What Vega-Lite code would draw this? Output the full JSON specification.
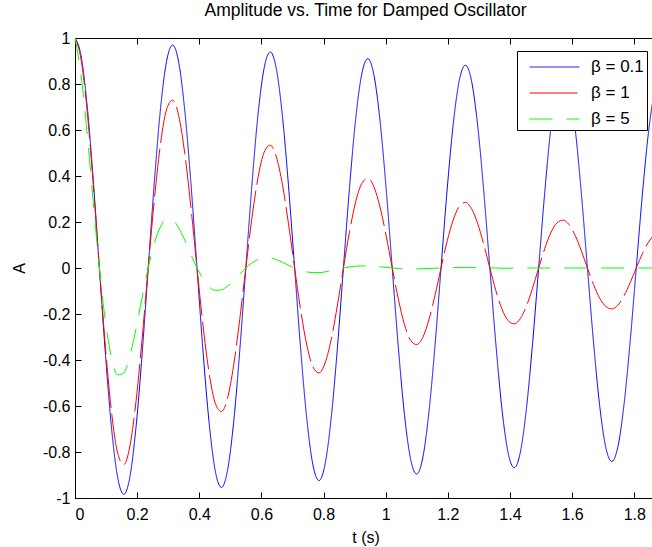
{
"$schema": "https://vega.github.io/schema/vega-lite/v6.json",
"autosize": "none",
"width": 581,
"height": 460,
"padding": {"left": 75, "top": 38, "right": 0, "bottom": 49},
"background": "white",
"title": {"text": "Amplitude vs. Time for Damped Oscillator", "fontSize": 17.5, "fontWeight": "normal", "font": "Liberation Sans", "color": "black", "anchor": "middle", "baseline": "alphabetic", "offset": 14, "dy": 17},
"datasets": {
"b01": [
{"t":0,"A":1},{"t":0.0196,"A":0.922},{"t":0.0393,"A":0.704},{"t":0.0589,"A":0.38},{"t":0.0785,"A":0},{"t":0.0982,"A":-0.379},{"t":0.1178,"A":-0.699},{"t":0.1374,"A":-0.911},
{"t":0.1571,"A":-0.984},{"t":0.1767,"A":-0.908},{"t":0.1963,"A":-0.693},{"t":0.216,"A":-0.375},{"t":0.2356,"A":0},{"t":0.2553,"A":0.373},{"t":0.2749,"A":0.688},{"t":0.2945,"A":0.897},
{"t":0.3142,"A":0.969},{"t":0.3338,"A":0.894},{"t":0.3534,"A":0.683},{"t":0.3731,"A":0.369},{"t":0.3927,"A":0},{"t":0.4123,"A":-0.367},{"t":0.432,"A":-0.677},{"t":0.4516,"A":-0.883},
{"t":0.4712,"A":-0.954},{"t":0.4909,"A":-0.88},{"t":0.5105,"A":-0.672},{"t":0.5301,"A":-0.363},{"t":0.5498,"A":0},{"t":0.5694,"A":0.361},{"t":0.589,"A":0.667},{"t":0.6087,"A":0.869},
{"t":0.6283,"A":0.939},{"t":0.648,"A":0.866},{"t":0.6676,"A":0.661},{"t":0.6872,"A":0.357},{"t":0.7069,"A":0},{"t":0.7265,"A":-0.356},{"t":0.7461,"A":-0.656},{"t":0.7658,"A":-0.856},
{"t":0.7854,"A":-0.924},{"t":0.805,"A":-0.852},{"t":0.8247,"A":-0.651},{"t":0.8443,"A":-0.352},{"t":0.8639,"A":0},{"t":0.8836,"A":0.35},{"t":0.9032,"A":0.646},{"t":0.9228,"A":0.842},
{"t":0.9425,"A":0.91},{"t":0.9621,"A":0.839},{"t":0.9817,"A":0.641},{"t":1.0014,"A":0.346},{"t":1.021,"A":0},{"t":1.0407,"A":-0.345},{"t":1.0603,"A":-0.636},{"t":1.0799,"A":-0.829},
{"t":1.0996,"A":-0.896},{"t":1.1192,"A":-0.826},{"t":1.1388,"A":-0.631},{"t":1.1585,"A":-0.341},{"t":1.1781,"A":0},{"t":1.1977,"A":0.339},{"t":1.2174,"A":0.626},{"t":1.237,"A":0.816},
{"t":1.2566,"A":0.882},{"t":1.2763,"A":0.813},{"t":1.2959,"A":0.621},{"t":1.3155,"A":0.336},{"t":1.3352,"A":0},{"t":1.3548,"A":-0.334},{"t":1.3744,"A":-0.616},{"t":1.3941,"A":-0.804},
{"t":1.4137,"A":-0.868},{"t":1.4334,"A":-0.801},{"t":1.453,"A":-0.611},{"t":1.4726,"A":-0.33},{"t":1.4923,"A":0},{"t":1.5119,"A":0.329},{"t":1.5315,"A":0.607},{"t":1.5512,"A":0.791},
{"t":1.5708,"A":0.855},{"t":1.5904,"A":0.788},{"t":1.6101,"A":0.602},{"t":1.6297,"A":0.325},{"t":1.6493,"A":0},{"t":1.669,"A":-0.324},{"t":1.6886,"A":-0.597},{"t":1.7082,"A":-0.779},
{"t":1.7279,"A":-0.841},{"t":1.7475,"A":-0.776},{"t":1.7671,"A":-0.593},{"t":1.7868,"A":-0.32},{"t":1.8064,"A":0},{"t":1.8261,"A":0.319},{"t":1.8457,"A":0.588},{"t":1.8653,"A":0.767},
{"t":1.885,"A":0.828}
],
"b1": [
{"t":0,"A":1},{"t":0.0196,"A":0.906},{"t":0.0393,"A":0.68},{"t":0.0589,"A":0.361},{"t":0.0785,"A":0},{"t":0.0982,"A":-0.347},{"t":0.1178,"A":-0.629},{"t":0.1374,"A":-0.805},
{"t":0.1571,"A":-0.855},{"t":0.1767,"A":-0.774},{"t":0.1963,"A":-0.581},{"t":0.216,"A":-0.308},{"t":0.2356,"A":0},{"t":0.2553,"A":0.296},{"t":0.2749,"A":0.537},{"t":0.2945,"A":0.688},
{"t":0.3142,"A":0.73},{"t":0.3338,"A":0.662},{"t":0.3534,"A":0.497},{"t":0.3731,"A":0.264},{"t":0.3927,"A":0},{"t":0.4123,"A":-0.253},{"t":0.432,"A":-0.459},{"t":0.4516,"A":-0.588},
{"t":0.4712,"A":-0.624},{"t":0.4909,"A":-0.566},{"t":0.5105,"A":-0.424},{"t":0.5301,"A":-0.225},{"t":0.5498,"A":0},{"t":0.5694,"A":0.217},{"t":0.589,"A":0.392},{"t":0.6087,"A":0.503},
{"t":0.6283,"A":0.534},{"t":0.648,"A":0.483},{"t":0.6676,"A":0.363},{"t":0.6872,"A":0.192},{"t":0.7069,"A":0},{"t":0.7265,"A":-0.185},{"t":0.7461,"A":-0.335},{"t":0.7658,"A":-0.43},
{"t":0.7854,"A":-0.456},{"t":0.805,"A":-0.413},{"t":0.8247,"A":-0.31},{"t":0.8443,"A":-0.165},{"t":0.8639,"A":0},{"t":0.8836,"A":0.158},{"t":0.9032,"A":0.287},{"t":0.9228,"A":0.367},
{"t":0.9425,"A":0.39},{"t":0.9621,"A":0.353},{"t":0.9817,"A":0.265},{"t":1.0014,"A":0.141},{"t":1.021,"A":0},{"t":1.0407,"A":-0.135},{"t":1.0603,"A":-0.245},{"t":1.0799,"A":-0.314},
{"t":1.0996,"A":-0.333},{"t":1.1192,"A":-0.302},{"t":1.1388,"A":-0.226},{"t":1.1585,"A":-0.12},{"t":1.1781,"A":0},{"t":1.1977,"A":0.116},{"t":1.2174,"A":0.209},{"t":1.237,"A":0.268},
{"t":1.2566,"A":0.285},{"t":1.2763,"A":0.258},{"t":1.2959,"A":0.194},{"t":1.3155,"A":0.103},{"t":1.3352,"A":0},{"t":1.3548,"A":-0.099},{"t":1.3744,"A":-0.179},{"t":1.3941,"A":-0.229},
{"t":1.4137,"A":-0.243},{"t":1.4334,"A":-0.22},{"t":1.453,"A":-0.165},{"t":1.4726,"A":-0.088},{"t":1.4923,"A":0},{"t":1.5119,"A":0.084},{"t":1.5315,"A":0.153},{"t":1.5512,"A":0.196},
{"t":1.5708,"A":0.208},{"t":1.5904,"A":0.188},{"t":1.6101,"A":0.141},{"t":1.6297,"A":0.075},{"t":1.6493,"A":0},{"t":1.669,"A":-0.072},{"t":1.6886,"A":-0.131},{"t":1.7082,"A":-0.167},
{"t":1.7279,"A":-0.178},{"t":1.7475,"A":-0.161},{"t":1.7671,"A":-0.121},{"t":1.7868,"A":-0.064},{"t":1.8064,"A":0},{"t":1.8261,"A":0.062},{"t":1.8457,"A":0.112},{"t":1.8653,"A":0.143},
{"t":1.885,"A":0.152}
],
"b5": [
{"t":0,"A":1},{"t":0.0196,"A":0.837},{"t":0.0393,"A":0.581},{"t":0.0589,"A":0.285},{"t":0.0785,"A":0},{"t":0.0982,"A":-0.234},{"t":0.1178,"A":-0.392},{"t":0.1374,"A":-0.465},
{"t":0.1571,"A":-0.456},{"t":0.1767,"A":-0.382},{"t":0.1963,"A":-0.265},{"t":0.216,"A":-0.13},{"t":0.2356,"A":0},{"t":0.2553,"A":0.107},{"t":0.2749,"A":0.179},{"t":0.2945,"A":0.212},
{"t":0.3142,"A":0.208},{"t":0.3338,"A":0.174},{"t":0.3534,"A":0.121},{"t":0.3731,"A":0.059},{"t":0.3927,"A":0},{"t":0.4123,"A":-0.049},{"t":0.432,"A":-0.082},{"t":0.4516,"A":-0.097},
{"t":0.4712,"A":-0.095},{"t":0.4909,"A":-0.079},{"t":0.5105,"A":-0.055},{"t":0.5301,"A":-0.027},{"t":0.5498,"A":0},{"t":0.5694,"A":0.022},{"t":0.589,"A":0.037},{"t":0.6087,"A":0.044},
{"t":0.6283,"A":0.043},{"t":0.648,"A":0.036},{"t":0.6676,"A":0.025},{"t":0.6872,"A":0.012},{"t":0.7069,"A":0},{"t":0.7265,"A":-0.01},{"t":0.7461,"A":-0.017},{"t":0.7658,"A":-0.02},
{"t":0.7854,"A":-0.02},{"t":0.805,"A":-0.017},{"t":0.8247,"A":-0.011},{"t":0.8443,"A":-0.006},{"t":0.8639,"A":0},{"t":0.8836,"A":0.005},{"t":0.9032,"A":0.008},{"t":0.9228,"A":0.009},
{"t":0.9425,"A":0.009},{"t":0.9621,"A":0.008},{"t":0.9817,"A":0.005},{"t":1.0014,"A":0.003},{"t":1.021,"A":0},{"t":1.0407,"A":-0.002},{"t":1.0603,"A":-0.004},{"t":1.0799,"A":-0.004},
{"t":1.0996,"A":-0.004},{"t":1.1192,"A":-0.003},{"t":1.1388,"A":-0.002},{"t":1.1585,"A":-0.001},{"t":1.1781,"A":0},{"t":1.1977,"A":0.001},{"t":1.2174,"A":0.002},{"t":1.237,"A":0.002},
{"t":1.2566,"A":0.002},{"t":1.2763,"A":0.002},{"t":1.2959,"A":0.001},{"t":1.3155,"A":0.001},{"t":1.3352,"A":0},{"t":1.3548,"A":0},{"t":1.3744,"A":-0.001},{"t":1.3941,"A":-0.001},
{"t":1.4137,"A":-0.001},{"t":1.4334,"A":-0.001},{"t":1.453,"A":0},{"t":1.4726,"A":0},{"t":1.4923,"A":0},{"t":1.5119,"A":0},{"t":1.5315,"A":0},{"t":1.5512,"A":0},
{"t":1.5708,"A":0},{"t":1.5904,"A":0},{"t":1.6101,"A":0},{"t":1.6297,"A":0},{"t":1.6493,"A":0},{"t":1.669,"A":0},{"t":1.6886,"A":0},{"t":1.7082,"A":0},
{"t":1.7279,"A":0},{"t":1.7475,"A":0},{"t":1.7671,"A":0},{"t":1.7868,"A":0},{"t":1.8064,"A":0},{"t":1.8261,"A":0},{"t":1.8457,"A":0},{"t":1.8653,"A":0},
{"t":1.885,"A":0}
]
},
"encoding": {
"y": {"field": "A", "type": "quantitative", "scale": {"domain": [-1, 1], "nice": false, "zero": false},
"axis": {"title": "A", "values": [-1,-0.8,-0.6,-0.4,-0.2,0,0.2,0.4,0.6,0.8,1], "format": ".1~f", "labelExpr": "replace(datum.label, '\u2212', '-')", "tickSize": -6, "labelPadding": 11, "titleX": -56, "titleY": 230, "titleAngle": -90, "titleAlign": "center", "titleBaseline": "middle"}}
},
"layer": [
{"data": {"name": "b01"},
"mark": {"type": "line", "interpolate": "monotone", "strokeWidth": 1, "clip": true},
"encoding": {
"x": {"field": "t", "type": "quantitative", "scale": {"domain": [0, 1.87], "nice": false, "zero": false},
"axis": {"title": "t (s)", "orient": "bottom", "values": [0,0.2,0.4,0.6,0.8,1,1.2,1.4,1.6,1.8], "format": ".1~f", "tickSize": -6, "labelPadding": 14, "titleY": 39, "titleBaseline": "middle"}},
"color": {"datum": "β = 0.1", "type": "nominal", "scale": {"domain": ["β = 0.1", "β = 1", "β = 5"], "range": ["#0000ff", "#ff0000", "#00ff00"]},
"legend": {"title": null, "orient": "none", "legendX": 442, "legendY": 13, "strokeColor": "black", "fillColor": "white", "padding": 3, "rowPadding": 5, "symbolType": "M-0.28,0H3.72", "symbolSize": 625, "symbolStrokeWidth": 1, "labelFontSize": 17, "labelOffset": 45, "labelFont": "Liberation Sans", "labelColor": "black"}},
"strokeDash": {"datum": "β = 0.1", "type": "nominal", "scale": {"domain": ["β = 0.1", "β = 1", "β = 5"], "range": [[1, 0], [48, 6], [23, 14]]},
"legend": {"title": null, "orient": "none", "legendX": 442, "legendY": 13, "strokeColor": "black", "fillColor": "white", "padding": 3, "rowPadding": 5, "symbolType": "M-0.28,0H3.72", "symbolSize": 625, "symbolStrokeWidth": 1, "labelFontSize": 17, "labelOffset": 45, "labelFont": "Liberation Sans", "labelColor": "black"}}
}},
{"data": {"name": "b1"},
"mark": {"type": "line", "interpolate": "monotone", "strokeWidth": 1, "clip": true},
"encoding": {
"x": {"field": "t", "type": "quantitative", "axis": {"title": null, "orient": "top", "labels": false, "domain": false, "values": [0,0.2,0.4,0.6,0.8,1,1.2,1.4,1.6,1.8], "tickSize": -6}},
"color": {"datum": "β = 1", "type": "nominal"},
"strokeDash": {"datum": "β = 1", "type": "nominal"}
}},
{"data": {"name": "b5"},
"mark": {"type": "line", "interpolate": "monotone", "strokeWidth": 1, "clip": true},
"encoding": {
"x": {"field": "t", "type": "quantitative", "axis": null},
"color": {"datum": "β = 5", "type": "nominal"},
"strokeDash": {"datum": "β = 5", "type": "nominal"}
}}
],
"resolve": {"axis": {"x": "independent"}},
"config": {
"font": "Liberation Sans",
"view": {"stroke": "black", "strokeWidth": 1},
"axis": {"grid": false, "domainColor": "black", "tickColor": "black", "labelColor": "black", "titleColor": "black", "labelFontSize": 16, "titleFontSize": 16, "titleFontWeight": "normal", "labelFont": "Liberation Sans", "titleFont": "Liberation Sans"}
}
}
